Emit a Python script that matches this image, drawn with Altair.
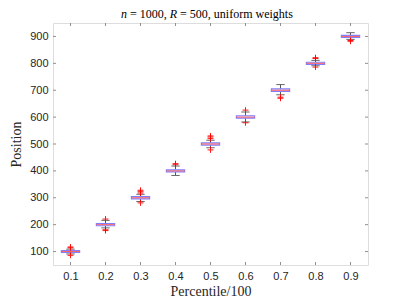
import altair as alt
import pandas as pd

pcts = [0.1, 0.2, 0.3, 0.4, 0.5, 0.6, 0.7, 0.8, 0.9]
q1 = [97, 196, 296, 396, 496, 596, 696, 796, 896]
med = [100, 200, 300, 400, 500, 600, 700, 800, 900]
q3 = [104, 204, 304, 404, 504, 605, 705, 804, 904]
wlo = [91, 188, 286, 383, 486, 582, 683, 791, 889]
whi = [109, 216, 313, 418, 514, 619, 721, 811, 914]

out_p = [0.1, 0.1, 0.1, 0.2, 0.2, 0.2, 0.3, 0.3, 0.3, 0.3, 0.4, 0.4,
         0.5, 0.5, 0.5, 0.5, 0.6, 0.6, 0.7, 0.7, 0.8, 0.8, 0.8, 0.9, 0.9]
out_v = [114, 117, 86, 221, 181, 178, 318, 324, 328, 281, 423, 427,
         520, 526, 530, 478, 626, 579, 674, 670, 818, 821, 786, 885, 882]

yticks = [100, 200, 300, 400, 500, 600, 700, 800, 900]
xticks = pcts

title_parts = ["n", "= 1000,", "R", "= 500, uniform weights"]
title_italic = [True, False, True, False]

box = pd.DataFrame({"p": pcts, "q1": q1, "med": med, "q3": q3, "wlo": wlo, "whi": whi})
outs = pd.DataFrame({"p": out_p, "v": out_v})
ytk = pd.DataFrame({"v": yticks})
xtk = pd.DataFrame({"p": xticks})

W, H = 315, 242
xs = alt.Scale(domain=[0.05, 0.95], nice=False, zero=False)
ys = alt.Scale(domain=[50, 950], nice=False, zero=False)

FRAME = "#8f8f8f"
TXT = "#262626"
axx = alt.Axis(values=xticks, format=".1f", ticks=False, grid=False, domain=False,
               labelFont="Liberation Sans", labelFontSize=11, labelColor=TXT, labelOverlap=False,
               labelPadding=5, title="Percentile/100", titleFont="Liberation Serif",
               titleFontSize=14, titleFontWeight="normal", titleColor=TXT, titlePadding=3)
axy = alt.Axis(values=yticks, format="d", ticks=False, grid=False, domain=False,
               labelFont="Liberation Sans", labelFontSize=11, labelColor=TXT, labelOverlap=False,
               labelPadding=5, title="Position", titleFont="Liberation Serif",
               titleFontSize=14, titleFontWeight="normal", titleColor=TXT, titlePadding=6)

base = alt.Chart(box)

whisk_lo = base.mark_rule(color="#555555", strokeWidth=1).encode(
    x=alt.X("p:Q", scale=xs, axis=axx), y=alt.Y("wlo:Q", scale=ys, axis=axy), y2="q1:Q")
whisk_hi = base.mark_rule(color="#555555", strokeWidth=1).encode(
    x=alt.X("p:Q", scale=xs, axis=axx), y=alt.Y("q3:Q", scale=ys, axis=axy), y2="whi:Q")
caps_lo = base.transform_calculate(a="datum.p - 0.012", b="datum.p + 0.012").mark_rule(
    color="#666666", strokeWidth=1).encode(x=alt.X("a:Q", scale=xs, axis=axx), x2="b:Q",
                                           y=alt.Y("wlo:Q", scale=ys, axis=axy))
caps_hi = base.transform_calculate(a="datum.p - 0.012", b="datum.p + 0.012").mark_rule(
    color="#666666", strokeWidth=1).encode(x=alt.X("a:Q", scale=xs, axis=axx), x2="b:Q",
                                           y=alt.Y("whi:Q", scale=ys, axis=axy))
boxes = base.transform_calculate(a="datum.p - 0.026", b="datum.p + 0.026").mark_rect(
    fill="#f3eaf5", stroke="#8080ff", strokeWidth=1.2).encode(
    x=alt.X("a:Q", scale=xs, axis=axx), x2="b:Q", y=alt.Y("q1:Q", scale=ys, axis=axy), y2="q3:Q")
medians = base.transform_calculate(a="datum.p - 0.026", b="datum.p + 0.026").mark_rule(
    color="#ff6060", strokeWidth=1).encode(x=alt.X("a:Q", scale=xs, axis=axx), x2="b:Q",
                                           y=alt.Y("med:Q", scale=ys, axis=axy))
outliers = alt.Chart(outs).mark_point(
    shape="M-1,0L1,0M0,-1L0,1", filled=False, color="#ff0000", size=35, strokeWidth=1, opacity=0.9).encode(
    x=alt.X("p:Q", scale=xs, axis=axx), y=alt.Y("v:Q", scale=ys, axis=axy))

ytick_l = alt.Chart(ytk).mark_rule(color=FRAME).encode(
    y=alt.Y("v:Q", scale=ys, axis=axy), x=alt.value(0), x2=alt.value(3))
ytick_r = alt.Chart(ytk).mark_rule(color=FRAME).encode(
    y=alt.Y("v:Q", scale=ys, axis=axy), x=alt.value(W - 3), x2=alt.value(W))
xtick_b = alt.Chart(xtk).mark_rule(color=FRAME).encode(
    x=alt.X("p:Q", scale=xs, axis=axx), y=alt.value(H - 3), y2=alt.value(H))
xtick_t = alt.Chart(xtk).mark_rule(color=FRAME).encode(
    x=alt.X("p:Q", scale=xs, axis=axx), y=alt.value(0), y2=alt.value(3))

# title pieces (italic n and R), laid out left to right
title_x = [68, 77, 116.8, 127.1]
title_layers = []
for txt, it, tx in zip(title_parts, title_italic, title_x):
    title_layers.append(
        alt.Chart(pd.DataFrame({"t": [txt]})).mark_text(
            font="Liberation Serif", fontSize=12, fontStyle="italic" if it else "normal",
            align="left", baseline="alphabetic", color="#000000"
        ).encode(text="t:N", x=alt.value(tx), y=alt.value(-5.5))
    )

chart = alt.layer(
    whisk_lo, whisk_hi, caps_lo, caps_hi, boxes, medians, outliers,
    ytick_l, ytick_r, xtick_b, xtick_t, *title_layers
).properties(
    width=W, height=H,
    padding={"left": 45, "top": 15, "right": 31, "bottom": 32},
    autosize=alt.AutoSizeParams(type="none"),
).configure_view(stroke=FRAME, strokeWidth=1.2).configure_axis(
    labelOverlap=False
).configure(background="white")

chart.save("out.html", embed_options={"renderer": "svg", "actions": False})
